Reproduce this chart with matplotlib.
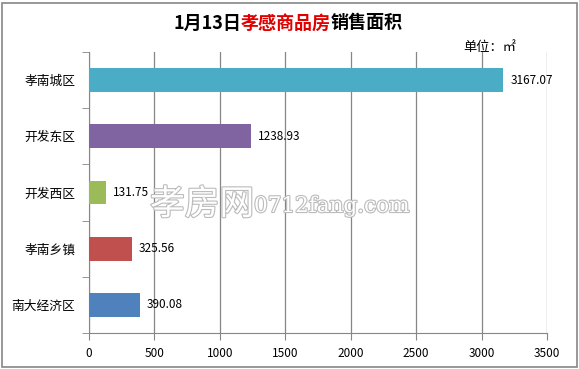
import matplotlib
matplotlib.use("Agg")
import matplotlib.pyplot as plt
import matplotlib.patheffects as pe
from matplotlib.patches import Rectangle

plt.rcParams['font.family'] = ['Noto Sans CJK SC', 'DejaVu Sans']

regions = ['南大经济区', '孝南乡镇', '开发西区', '开发东区', '孝南城区']
areas = [390.08, 325.56, 131.75, 1238.93, 3167.07]
colors = ['#4F81BD', '#C0504D', '#9BBB59', '#8064A2', '#4BACC6']
xticks = [0, 500, 1000, 1500, 2000, 2500, 3000, 3500]

W, H = 579, 369
fig = plt.figure(figsize=(W / 100, H / 100), dpi=100)
fig.patches.append(Rectangle((1.5 / W, 2.5 / H), (W - 4) / W, (H - 5) / H,
                             transform=fig.transFigure, fill=False,
                             edgecolor='#868686', linewidth=1.2))

ax = fig.add_axes([89 / W, (H - 333) / H, (547 - 89) / W, (333 - 52) / H])
y = list(range(len(regions)))
ax.barh(y, areas, height=0.42, color=colors, zorder=3)
ax.set_xlim(0, 3500)
ax.set_ylim(-0.5, len(regions) - 0.5)
ax.set_xticks(xticks)
ax.set_xticklabels([str(t) for t in xticks], fontsize=8.5)
ax.set_yticks(y)
ax.set_yticklabels(regions, fontsize=9.2)
ax.set_yticks([i - 0.5 for i in range(len(regions) + 1)], minor=True)
ax.tick_params(axis='y', which='major', length=0, pad=10)
ax.tick_params(axis='y', which='minor', length=5, color='#868686')
ax.tick_params(axis='x', length=5, color='#868686', pad=5)
ax.grid(axis='x', color='#868686', linewidth=0.9, zorder=0)
for s in ['top', 'right']:
    ax.spines[s].set_visible(False)
for s in ['left', 'bottom']:
    ax.spines[s].set_color('#868686')

for yi, v in zip(y, areas):
    ax.annotate(f'{v:.2f}', (v, yi), xytext=(5, 0), textcoords='offset points',
                va='center', ha='left', fontsize=8.5, color='black', zorder=4)

# watermark
fig.text(150 / W, 1 - 205 / H, '孝房网', fontsize=25, color='white',
         va='center', ha='left', zorder=5,
         path_effects=[pe.withStroke(linewidth=1.6, foreground='#BBBBBB')])
fig.text(254 / W, 1 - 206 / H, '0712fang.com', fontsize=15.5, color='white',
         va='center', ha='left', family='DejaVu Serif', zorder=5,
         path_effects=[pe.withStroke(linewidth=1.6, foreground='#BBBBBB')])

# title in three colours
fig.canvas.draw()
r = fig.canvas.get_renderer()
parts = [('1月13日', 'black'), ('孝感商品房', '#E00000'), ('销售面积', 'black')]
texts = []
for s, c in parts:
    texts.append(fig.text(0, 1 - 23 / H, s, fontsize=13, fontweight='bold',
                          color=c, va='center', ha='left'))
widths = [t.get_window_extent(r).width for t in texts]
x0 = 288 - sum(widths) / 2
for t, w in zip(texts, widths):
    t.set_x(x0 / W)
    x0 += w

fig.text(463 / W, 1 - 47 / H, '单位：㎡', fontsize=9.5, va='center', ha='left')

fig.savefig('out.png', dpi=100)
